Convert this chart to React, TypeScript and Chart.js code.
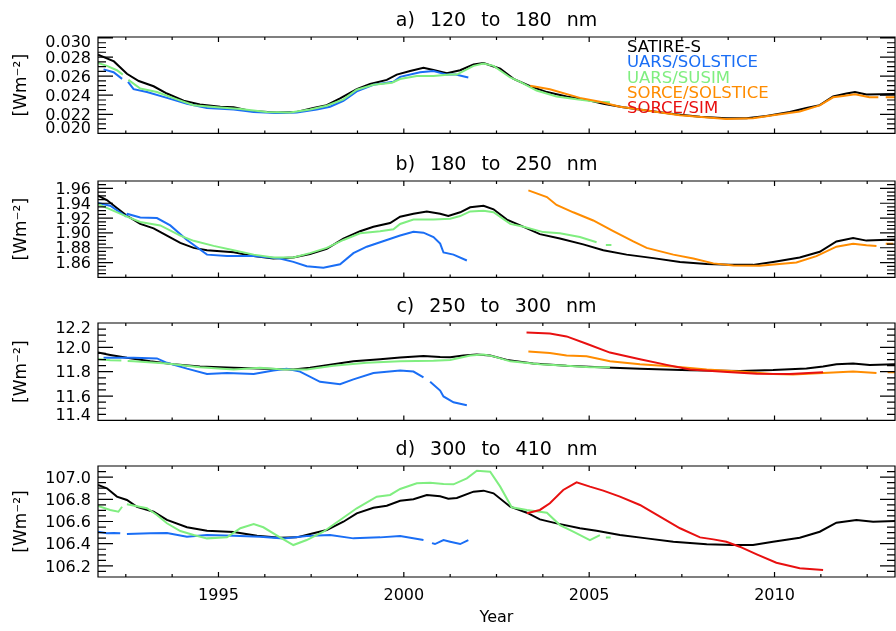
import React, { useEffect, useRef } from 'react';
import { Chart, registerables } from 'chart.js';

Chart.register(...registerables);

type Pt = [number, number | null];

// ---------- axes ----------
const X_MIN = 1991.75;
const X_MAX = 2013.25;
const X_MAJOR = [1995, 2000, 2005, 2010];
const X_MINOR_STEP = 1.25;
const X_TITLE = 'Year';
const Y_TITLE = '[Wm\u207B\u00B2]';

const LEGEND_LABELS = ['SATIRE-S', 'UARS/SOLSTICE', 'UARS/SUSIM', 'SORCE/SOLSTICE', 'SORCE/SIM'];
const LEGEND_COLORS = ['#000000', '#1a6ef5', '#80ee80', '#ff8c00', '#e81010'];

const TITLES = ['a) 120 to 180 nm', 'b) 180 to 250 nm', 'c) 250 to 300 nm', 'd) 300 to 410 nm'];
const Y_RANGES: [number, number][] = [[0.02, 0.0301], [1.84, 1.97], [11.4, 12.2], [106.1, 107.1]];
const A_TICKS = [0.02, 0.022, 0.024, 0.026, 0.028, 0.03];
const B_TICKS = [1.86, 1.88, 1.9, 1.92, 1.94, 1.96];
const C_TICKS = [11.4, 11.6, 11.8, 12.0, 12.2];
const D_TICKS = [106.2, 106.4, 106.6, 106.8, 107.0];
const TICK_DECIMALS = [3, 2, 1, 1];

// ---------- panel a: 120-180 nm ----------
const A_SATIRE: Pt[] = [[1991.75,0.02824],[1992.18,0.02754],[1992.53,0.02625],[1992.85,0.02549],[1993.25,0.02494],[1993.61,0.02418],[1994.06,0.02342],[1994.5,0.02302],[1995.05,0.0228],[1995.41,0.02275],[1995.86,0.02234],[1996.57,0.0222],[1997.11,0.02225],[1997.56,0.02266],[1997.92,0.02296],[1998.28,0.02366],[1998.73,0.02463],[1999.09,0.02518],[1999.54,0.02561],[1999.81,0.02616],[2000.17,0.02653],[2000.53,0.02687],[2000.8,0.02665],[2001.16,0.0263],[2001.52,0.02662],[2001.88,0.02723],[2002.15,0.02738],[2002.6,0.02678],[2002.96,0.02571],[2003.41,0.02494],[2003.86,0.02433],[2004.39,0.02387],[2004.93,0.02351],[2005.38,0.02311],[2005.92,0.02275],[2006.55,0.02241],[2007.27,0.02204],[2007.99,0.02174],[2008.7,0.02158],[2009.24,0.02158],[2009.78,0.02183],[2010.41,0.02225],[2010.86,0.02266],[2011.22,0.02296],[2011.58,0.02387],[2011.94,0.02418],[2012.17,0.02433],[2012.48,0.02408],[2013.27,0.02412]];
const A_SOLSTICE: Pt[] = [[1991.9,0.02671],[1992.17,0.02641],[1992.4,0.02571],[1992.48,null],[1992.56,0.0254],[1992.71,0.02463],[1993.07,0.02433],[1993.61,0.02372],[1994.15,0.02311],[1994.69,0.02266],[1995.41,0.0225],[1995.95,0.02225],[1996.57,0.02213],[1997.11,0.02219],[1997.65,0.0225],[1998.01,0.0228],[1998.37,0.02342],[1998.73,0.0244],[1999.18,0.02509],[1999.72,0.0254],[1999.9,0.02592],[2000.44,0.02641],[2000.8,0.02653],[2001.16,0.02616],[2001.4,0.02616],[2001.74,0.02586]];
const A_SUSIM: Pt[] = [[1991.75,0.02738],[1991.99,0.02708],[1992.26,0.02662],[1992.42,0.02616],[1992.5,null],[1992.57,0.02561],[1992.89,0.0247],[1993.34,0.02433],[1993.88,0.02357],[1994.33,0.02296],[1994.96,0.02275],[1995.59,0.02256],[1996.3,0.02225],[1996.93,0.0222],[1997.47,0.0225],[1997.92,0.0229],[1998.37,0.02357],[1998.73,0.02457],[1999.18,0.02509],[1999.68,0.02531],[1999.9,0.0257],[2000.35,0.02601],[2000.8,0.02601],[2001.25,0.02616],[2001.43,0.02616],[2001.88,0.02708],[2002.15,0.02733],[2002.42,0.02708],[2002.87,0.02586],[2003.14,0.0254],[2003.58,0.02449],[2004.12,0.02387],[2004.66,0.02357],[2005.2,0.02332],[2005.56,0.02327]];
const A_SORCE_SOLSTICE: Pt[] = [[2003.41,0.025],[2003.94,0.02463],[2004.75,0.02372],[2005.29,0.02332],[2005.83,0.0228],[2006.55,0.02241],[2007.45,0.02189],[2008.7,0.02152],[2009.42,0.02158],[2009.96,0.02189],[2010.68,0.02229],[2011.22,0.02293],[2011.58,0.02378],[2011.85,0.02393],[2012.17,0.02411],[2012.56,0.02378],[2012.8,0.02378],[2012.9,null],[2013.0,0.02378],[2013.27,0.02378]];
const A_SIM: Pt[] = [];

// ---------- panel b: 180-250 nm ----------
const B_SATIRE: Pt[] = [[1991.75,1.9503],[1991.99,1.9444],[1992.26,1.9337],[1992.53,1.9231],[1992.89,1.9121],[1993.25,1.9062],[1993.61,1.8964],[1993.97,1.8865],[1994.33,1.8798],[1994.69,1.8766],[1995.41,1.8739],[1995.95,1.8687],[1996.48,1.8656],[1997.02,1.8668],[1997.47,1.8715],[1997.92,1.8786],[1998.37,1.8924],[1998.82,1.9023],[1999.18,1.9082],[1999.63,1.9133],[1999.9,1.9219],[2000.26,1.9259],[2000.62,1.929],[2000.98,1.9259],[2001.2,1.9227],[2001.52,1.9278],[2001.79,1.9345],[2002.15,1.9366],[2002.42,1.9318],[2002.78,1.918],[2003.14,1.9101],[2003.67,1.8983],[2004.21,1.8924],[2004.84,1.8845],[2005.38,1.8766],[2006.01,1.8707],[2006.73,1.866],[2007.45,1.8609],[2008.17,1.8581],[2008.8,1.8569],[2009.42,1.8569],[2009.96,1.8609],[2010.68,1.8668],[2011.22,1.8746],[2011.67,1.8885],[2012.12,1.8932],[2012.48,1.8896],[2013.27,1.8912]];
const B_SOLSTICE: Pt[] = [[1991.75,1.9405],[1992.08,1.9366],[1992.5,1.9225],[1992.55,1.9255],[1992.89,1.9207],[1993.34,1.92],[1993.7,1.9101],[1994.15,1.8905],[1994.69,1.8707],[1995.23,1.8687],[1995.95,1.8687],[1996.66,1.8656],[1997.02,1.8609],[1997.38,1.855],[1997.83,1.853],[1998.28,1.8577],[1998.64,1.8727],[1999.0,1.8814],[1999.54,1.8905],[1999.9,1.8964],[2000.26,1.9015],[2000.53,1.9003],[2000.8,1.8944],[2000.98,1.8855],[2001.07,1.8736],[2001.34,1.8707],[2001.7,1.8628]];
const B_SUSIM: Pt[] = [[1991.75,1.9389],[1992.08,1.9318],[1992.53,1.9219],[1992.89,1.9148],[1993.43,1.9101],[1993.97,1.8964],[1994.33,1.8893],[1994.87,1.8825],[1995.41,1.8766],[1995.95,1.8707],[1996.48,1.8668],[1997.02,1.8668],[1997.47,1.8727],[1997.92,1.8798],[1998.37,1.8905],[1998.82,1.8995],[1999.36,1.9023],[1999.72,1.905],[1999.9,1.9121],[2000.26,1.918],[2000.8,1.918],[2001.25,1.9192],[2001.52,1.9227],[2001.79,1.929],[2002.15,1.9298],[2002.42,1.9278],[2002.87,1.9121],[2003.23,1.9082],[2003.76,1.9011],[2004.21,1.8995],[2004.75,1.8944],[2005.2,1.8873],[2005.3,null],[2005.45,1.8837],[2005.6,1.8837]];
const B_SORCE_SOLSTICE: Pt[] = [[2003.36,1.9574],[2003.86,1.9484],[2004.12,1.9377],[2004.57,1.9278],[2005.11,1.9168],[2005.65,1.9023],[2006.19,1.8885],[2006.55,1.8798],[2007.27,1.8707],[2007.81,1.8656],[2008.35,1.8589],[2008.89,1.8562],[2009.6,1.8557],[2010.59,1.8601],[2011.13,1.8687],[2011.67,1.8814],[2012.12,1.8853],[2012.48,1.8834],[2012.75,1.8825],[2012.9,null],[2013.0,1.8853],[2013.2,1.8853]];
const B_SIM: Pt[] = [];

// ---------- panel c: 250-300 nm ----------
const C_SATIRE: Pt[] = [[1991.75,11.957],[1992.08,11.938],[1992.53,11.914],[1993.16,11.885],[1993.79,11.861],[1994.5,11.842],[1995.41,11.832],[1996.3,11.825],[1997.02,11.818],[1997.47,11.832],[1998.1,11.861],[1998.64,11.885],[1999.36,11.902],[1999.9,11.917],[2000.53,11.928],[2000.98,11.921],[2001.25,11.919],[2001.61,11.933],[2001.97,11.941],[2002.33,11.933],[2002.78,11.897],[2003.49,11.868],[2004.39,11.849],[2005.29,11.837],[2006.37,11.825],[2007.72,11.811],[2009.06,11.806],[2009.96,11.813],[2010.86,11.827],[2011.31,11.842],[2011.67,11.861],[2012.12,11.868],[2012.57,11.856],[2013.27,11.861]];
const C_SOLSTICE: Pt[] = [[1991.9,11.914],[1992.21,11.914],[1992.71,11.914],[1993.34,11.909],[1993.61,11.873],[1994.15,11.825],[1994.69,11.782],[1995.23,11.789],[1995.95,11.782],[1996.48,11.809],[1996.84,11.825],[1997.2,11.801],[1997.74,11.717],[1998.28,11.698],[1998.64,11.737],[1999.18,11.789],[1999.9,11.809],[2000.26,11.801],[2000.53,11.753],[2000.6,null],[2000.71,11.717],[2000.98,11.645],[2001.07,11.597],[2001.34,11.549],[2001.7,11.525]];
const C_SUSIM: Pt[] = [[1991.75,11.905],[1992.08,11.895],[1992.38,11.893],[1992.45,null],[1992.55,11.888],[1992.71,11.885],[1993.61,11.868],[1994.5,11.837],[1995.41,11.818],[1996.12,11.832],[1996.75,11.818],[1997.38,11.818],[1998.1,11.849],[1999.0,11.873],[1999.9,11.885],[2000.8,11.89],[2001.25,11.897],[2001.43,11.909],[2001.79,11.933],[2002.15,11.941],[2002.42,11.926],[2002.87,11.885],[2003.67,11.861],[2004.39,11.849],[2005.02,11.837],[2005.56,11.837]];
const C_SORCE_SOLSTICE: Pt[] = [[2003.36,11.965],[2003.94,11.953],[2004.39,11.933],[2004.93,11.926],[2005.56,11.885],[2006.37,11.861],[2007.27,11.842],[2008.17,11.818],[2009.06,11.801],[2009.96,11.782],[2010.5,11.777],[2011.31,11.789],[2012.12,11.801],[2012.75,11.789],[2012.9,null],[2013.05,11.795],[2013.27,11.795]];
const C_SIM: Pt[] = [[2003.31,12.121],[2003.94,12.114],[2004.39,12.09],[2004.93,12.03],[2005.56,11.957],[2006.37,11.902],[2007.09,11.856],[2007.72,11.818],[2008.62,11.799],[2009.52,11.784],[2010.41,11.782],[2011.31,11.796]];

// ---------- panel d: 300-410 nm ----------
const D_SATIRE: Pt[] = [[1991.75,106.929],[1991.99,106.899],[1992.26,106.824],[1992.53,106.794],[1992.8,106.733],[1993.25,106.688],[1993.61,106.614],[1994.15,106.548],[1994.69,106.517],[1995.41,106.505],[1996.04,106.472],[1996.66,106.454],[1997.11,106.457],[1997.56,106.494],[1997.92,106.523],[1998.37,106.598],[1998.73,106.674],[1999.18,106.724],[1999.54,106.742],[1999.9,106.787],[2000.26,106.8],[2000.62,106.839],[2000.98,106.827],[2001.2,106.806],[2001.43,106.812],[2001.88,106.869],[2002.15,106.878],[2002.42,106.854],[2002.87,106.733],[2003.32,106.679],[2003.67,106.619],[2004.12,106.583],[2004.75,106.539],[2005.2,106.517],[2005.83,106.478],[2006.55,106.448],[2007.27,106.418],[2008.17,106.394],[2008.89,106.388],[2009.42,106.388],[2009.96,106.418],[2010.68,106.454],[2011.22,106.508],[2011.67,106.589],[2012.21,106.614],[2012.66,106.598],[2013.27,106.605]];
const D_SOLSTICE: Pt[] = [[1991.75,106.508],[1991.99,106.494],[1992.17,106.497],[1992.35,106.494],[1992.43,null],[1992.53,106.487],[1993.16,106.494],[1993.61,106.497],[1994.15,106.463],[1994.69,106.478],[1995.41,106.472],[1996.12,106.463],[1996.75,106.448],[1997.38,106.469],[1998.01,106.478],[1998.64,106.448],[1999.36,106.457],[1999.9,106.469],[2000.53,106.433],[2000.62,null],[2000.76,106.405],[2000.84,106.397],[2001.07,106.433],[2001.25,106.418],[2001.52,106.397],[2001.74,106.433]];
const D_SUSIM: Pt[] = [[1991.75,106.74],[1992.08,106.704],[1992.3,106.688],[1992.4,106.733],[1992.47,null],[1992.53,106.755],[1993.07,106.719],[1993.34,106.659],[1993.61,106.584],[1993.97,106.514],[1994.33,106.478],[1994.69,106.448],[1995.23,106.457],[1995.59,106.539],[1995.95,106.577],[1996.21,106.548],[1996.66,106.457],[1997.02,106.388],[1997.38,106.433],[1997.83,106.508],[1998.28,106.614],[1998.73,106.719],[1999.27,106.824],[1999.63,106.839],[1999.9,106.893],[2000.35,106.944],[2000.71,106.95],[2001.07,106.938],[2001.34,106.935],[2001.7,106.989],[2001.97,107.058],[2002.33,107.049],[2002.6,106.914],[2002.91,106.728],[2003.32,106.704],[2003.86,106.679],[2004.21,106.568],[2004.57,106.508],[2005.02,106.433],[2005.29,106.478],[2005.38,null],[2005.45,106.456],[2005.58,106.456]];
const D_SORCE_SOLSTICE: Pt[] = [];
const D_SIM: Pt[] = [[2003.32,106.674],[2003.67,106.704],[2003.94,106.764],[2004.3,106.884],[2004.66,106.953],[2005.02,106.914],[2005.38,106.878],[2005.83,106.824],[2006.37,106.749],[2006.91,106.643],[2007.45,106.539],[2007.99,106.457],[2008.35,106.439],[2008.7,106.418],[2009.06,106.373],[2009.52,106.304],[2010.05,106.229],[2010.68,106.178],[2011.31,106.163]];

// series per panel, in legend order: SATIRE, UARS/SOLSTICE, UARS/SUSIM, SORCE/SOLSTICE, SORCE/SIM
const PANEL_SERIES: Pt[][][] = [
  [A_SATIRE, A_SOLSTICE, A_SUSIM, A_SORCE_SOLSTICE, A_SIM],
  [B_SATIRE, B_SOLSTICE, B_SUSIM, B_SORCE_SOLSTICE, B_SIM],
  [C_SATIRE, C_SOLSTICE, C_SUSIM, C_SORCE_SOLSTICE, C_SIM],
  [D_SATIRE, D_SOLSTICE, D_SUSIM, D_SORCE_SOLSTICE, D_SIM],
];
const PANEL_TICKS = [A_TICKS, B_TICKS, C_TICKS, D_TICKS];

// ---------- layout (pixels) ----------
const W = 896;
const FONT = 'DejaVu Sans';
const PLOT_LEFT = 98;
const LAYOUT = [
  { top: 0, height: 150, frameTop: 37, frameBottom: 147, titleCenter: 21 },
  { top: 150, height: 144, frameTop: 31, frameBottom: 141, titleCenter: 15 },
  { top: 294, height: 143, frameTop: 29, frameBottom: 140, titleCenter: 13 },
  { top: 437, height: 194, frameTop: 29, frameBottom: 140, titleCenter: 13 },
];
const TITLE_SIZE = 19;

function makeFramePlugin(idx: number) {
  return {
    id: 'idlFrame' + idx,
    beforeDraw(chart: any) {
      (chart.ctx as any).wordSpacing = '9px';
    },
    afterDatasetsDraw(chart: any) {
      const ctx = chart.ctx;
      const { left, right, top, bottom } = chart.chartArea;
      const xs = chart.scales.x;
      const ys = chart.scales.y;
      const [ymin, ymax] = Y_RANGES[idx];
      const ticks = PANEL_TICKS[idx];
      ctx.save();
      ctx.strokeStyle = '#000';
      ctx.lineWidth = 1.2;
      ctx.beginPath();
      ctx.rect(left, top, right - left, bottom - top);
      // y major & minor
      const step = ticks[1] - ticks[0];
      const minor = step / 4;
      let v0 = ticks[0];
      while (v0 - minor >= ymin - 1e-9) v0 -= minor;
      for (let v = v0; v <= ymax + 1e-9; v += minor) {
        const isMajor = ticks.some((t) => Math.abs(t - v) < minor / 10);
        const len = isMajor ? 15 : 8;
        const py = ys.getPixelForValue(v);
        ctx.moveTo(left, py); ctx.lineTo(left + len, py);
        ctx.moveTo(right, py); ctx.lineTo(right - len, py);
      }
      // x major & minor
      let x0 = X_MAJOR[0];
      while (x0 - X_MINOR_STEP >= X_MIN) x0 -= X_MINOR_STEP;
      for (let v = x0; v <= X_MAX + 1e-9; v += X_MINOR_STEP) {
        const isMajor = X_MAJOR.some((t) => Math.abs(t - v) < 0.01);
        const len = isMajor ? 5 : 3;
        const px = xs.getPixelForValue(v);
        ctx.moveTo(px, bottom); ctx.lineTo(px, bottom - len);
        ctx.moveTo(px, top); ctx.lineTo(px, top + len);
      }
      ctx.stroke();
      // legend (panel a only)
      if (idx === 0) {
        ctx.font = `16.5px "${FONT}"`;
        ctx.textAlign = 'left';
        ctx.textBaseline = 'middle';
        LEGEND_LABELS.forEach((lab, i) => {
          ctx.fillStyle = LEGEND_COLORS[i];
          ctx.fillText(lab, left + 529, top + 10.5 + i * 15.4);
        });
      }
      ctx.restore();
    },
  };
}

function PanelChart({ idx }: { idx: number }) {
  const ref = useRef<HTMLCanvasElement>(null);
  useEffect(() => {
    const lay = LAYOUT[idx];
    const [ymin, ymax] = Y_RANGES[idx];
    const ticks = PANEL_TICKS[idx];
    const isLast = idx === LAYOUT.length - 1;
    const plotH = lay.frameBottom - lay.frameTop;
    const upp = (ymax - ymin) / plotH;
    const lh = TITLE_SIZE * 1.2;
    const titlePadTop = lay.titleCenter - lh / 2;
    const titlePadBottom = lay.frameTop - titlePadTop - lh;
    const xAxisH = isLast ? lay.height - lay.frameBottom : 0;

    const order = [4, 3, 2, 1, 0];
    const datasets = order
      .filter((s) => PANEL_SERIES[idx][s].length > 0)
      .map((s) => ({
        label: LEGEND_LABELS[s],
        data: PANEL_SERIES[idx][s].map(([x, y]) => ({ x, y })),
        borderColor: LEGEND_COLORS[s],
        backgroundColor: LEGEND_COLORS[s],
        borderWidth: 2,
        pointRadius: 0,
        fill: false,
        spanGaps: false,
        tension: 0,
      }));

    const chart = new Chart(ref.current as HTMLCanvasElement, {
      type: 'line',
      data: { datasets } as any,
      options: {
        responsive: false,
        animation: false,
        devicePixelRatio: 1,
        events: [],
        layout: { padding: { left: 0, right: W - 895, top: 0, bottom: lay.height - lay.frameBottom - xAxisH } },
        scales: {
          x: {
            type: 'linear',
            display: isLast,
            min: X_MIN,
            max: X_MAX,
            afterFit: (s: any) => { s.height = xAxisH; },
            afterBuildTicks: (s: any) => { s.ticks = X_MAJOR.map((v) => ({ value: v })); },
            grid: { display: false, drawTicks: false },
            border: { display: false },
            ticks: {
              autoSkip: false,
              maxRotation: 0,
              padding: 9.4,
              color: '#000',
              font: { family: FONT, size: 16 },
              callback: (v: any) => String(v),
            },
            title: {
              display: true,
              text: X_TITLE,
              color: '#000',
              font: { family: FONT, size: 16 },
              padding: { top: 0, bottom: 3.4 },
            },
          },
          y: {
            type: 'linear',
            min: ymin,
            max: ymax,
            afterFit: (s: any) => { s.width = PLOT_LEFT; },
            afterBuildTicks: (s: any) => {
              s.ticks = ticks.map((v) => ({
                value: Math.max(ymin + 5.5 * upp, Math.min(ymax - 6.5 * upp, v - 1.5 * upp)),
              }));
            },
            grid: { display: false, drawTicks: false },
            border: { display: false },
            ticks: {
              autoSkip: false,
              padding: 7,
              color: '#000',
              font: { family: FONT, size: 16 },
              callback: (_v: any, i: number) => ticks[i].toFixed(TICK_DECIMALS[idx]),
            },
            title: {
              display: true,
              text: Y_TITLE,
              color: '#000',
              font: { family: FONT, size: 17 },
              padding: { top: 11.8, bottom: 0 },
            },
          },
        },
        plugins: {
          legend: { display: false },
          tooltip: { enabled: false },
          title: {
            display: true,
            text: TITLES[idx],
            fullSize: false,
            color: '#000',
            font: { family: FONT, size: TITLE_SIZE, weight: 'normal' },
            padding: { top: titlePadTop, bottom: titlePadBottom },
          },
        },
      } as any,
      plugins: [makeFramePlugin(idx)],
    });
    return () => chart.destroy();
  }, [idx]);
  const lay = LAYOUT[idx];
  return (
    <canvas
      ref={ref}
      width={W}
      height={lay.height}
      style={{ position: 'absolute', left: 0, top: lay.top, width: W, height: lay.height }}
    />
  );
}

export default function App() {
  return (
    <div style={{ position: 'fixed', left: 0, top: 0, width: W, height: 631, background: '#fff', overflow: 'hidden' }}>
      {LAYOUT.map((_, i) => (
        <PanelChart key={i} idx={i} />
      ))}
    </div>
  );
}
